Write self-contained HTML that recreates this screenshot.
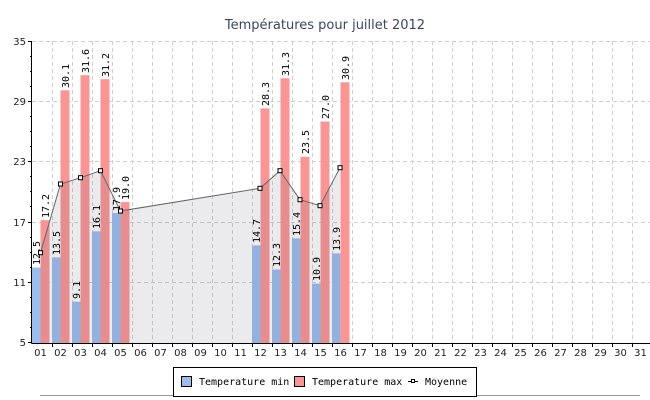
<!DOCTYPE html>
<html><head><meta charset="utf-8"><style>
html,body{margin:0;padding:0;background:#fff;}
svg{display:block;}
.t{font-family:"DejaVu Sans Mono","Liberation Mono",monospace;font-size:10px;fill:#000;}
.ax{font-family:"DejaVu Sans","Liberation Sans",sans-serif;font-size:10px;fill:#222;}
</style></head><body>
<svg width="650" height="400" viewBox="0 0 650 400" xmlns="http://www.w3.org/2000/svg">
<rect width="650" height="400" fill="#fff"/>
<text x="325" y="29" text-anchor="middle" font-family="DejaVu Sans, Liberation Sans, sans-serif" font-size="13" fill="#3d4460">Températures pour juillet 2012</text>
<g stroke="#cfcfcf" stroke-dasharray="4,3" stroke-width="1">
<line x1="32" y1="41.5" x2="650" y2="41.5"/>
<line x1="32" y1="101.5" x2="650" y2="101.5"/>
<line x1="32" y1="161.5" x2="650" y2="161.5"/>
<line x1="32" y1="222.5" x2="650" y2="222.5"/>
<line x1="32" y1="282.5" x2="650" y2="282.5"/>
<line x1="52.5" y1="41" x2="52.5" y2="343"/><line x1="72.5" y1="41" x2="72.5" y2="343"/><line x1="92.5" y1="41" x2="92.5" y2="343"/><line x1="112.5" y1="41" x2="112.5" y2="343"/><line x1="132.5" y1="41" x2="132.5" y2="343"/><line x1="152.5" y1="41" x2="152.5" y2="343"/><line x1="172.5" y1="41" x2="172.5" y2="343"/><line x1="192.5" y1="41" x2="192.5" y2="343"/><line x1="212.5" y1="41" x2="212.5" y2="343"/><line x1="232.5" y1="41" x2="232.5" y2="343"/><line x1="252.5" y1="41" x2="252.5" y2="343"/><line x1="272.5" y1="41" x2="272.5" y2="343"/><line x1="292.5" y1="41" x2="292.5" y2="343"/><line x1="312.5" y1="41" x2="312.5" y2="343"/><line x1="332.5" y1="41" x2="332.5" y2="343"/><line x1="352.5" y1="41" x2="352.5" y2="343"/><line x1="372.5" y1="41" x2="372.5" y2="343"/><line x1="392.5" y1="41" x2="392.5" y2="343"/><line x1="412.5" y1="41" x2="412.5" y2="343"/><line x1="432.5" y1="41" x2="432.5" y2="343"/><line x1="452.5" y1="41" x2="452.5" y2="343"/><line x1="472.5" y1="41" x2="472.5" y2="343"/><line x1="492.5" y1="41" x2="492.5" y2="343"/><line x1="512.5" y1="41" x2="512.5" y2="343"/><line x1="532.5" y1="41" x2="532.5" y2="343"/><line x1="552.5" y1="41" x2="552.5" y2="343"/><line x1="572.5" y1="41" x2="572.5" y2="343"/><line x1="592.5" y1="41" x2="592.5" y2="343"/><line x1="612.5" y1="41" x2="612.5" y2="343"/><line x1="632.5" y1="41" x2="632.5" y2="343"/>
</g>
<g fill="#9dbdee">
<rect x="32" y="267.5" width="8.5" height="75.5"/>
<rect x="52" y="257.4" width="8.5" height="85.6"/>
<rect x="72" y="301.7" width="8.5" height="41.3"/>
<rect x="92" y="231.3" width="8.5" height="111.7"/>
<rect x="112" y="213.1" width="8.5" height="129.9"/>
<rect x="252" y="245.4" width="8.5" height="97.6"/>
<rect x="272" y="269.5" width="8.5" height="73.5"/>
<rect x="292" y="238.3" width="8.5" height="104.7"/>
<rect x="312" y="283.6" width="8.5" height="59.4"/>
<rect x="332" y="253.4" width="8.5" height="89.6"/>
</g>
<g fill="#f99595">
<rect x="40.5" y="220.2" width="9" height="122.8"/>
<rect x="60.5" y="90.3" width="9" height="252.7"/>
<rect x="80.5" y="75.2" width="9" height="267.8"/>
<rect x="100.5" y="79.2" width="9" height="263.8"/>
<rect x="120.5" y="202.1" width="9" height="140.9"/>
<rect x="260.5" y="108.4" width="9" height="234.6"/>
<rect x="280.5" y="78.2" width="9" height="264.8"/>
<rect x="300.5" y="156.8" width="9" height="186.2"/>
<rect x="320.5" y="121.5" width="9" height="221.5"/>
<rect x="340.5" y="82.3" width="9" height="260.7"/>
</g>
<polygon points="40.5,343 40.5,252.7 60.5,184 80.5,177.7 100.5,170.7 120.5,211 260,188.3 280,170.7 300,199.7 320,205.7 340,167.7 340,343" fill="#5a5a6a" fill-opacity="0.12"/>
<polyline points="40.5,252.7 60.5,184 80.5,177.7 100.5,170.7 120.5,211 260,188.3 280,170.7 300,199.7 320,205.7 340,167.7" fill="none" stroke="#666" stroke-width="1"/>
<g fill="#fff" stroke="#000" stroke-width="1">
<rect x="38.5" y="250.7" width="4" height="4"/><rect x="58.5" y="182" width="4" height="4"/><rect x="78.5" y="175.7" width="4" height="4"/><rect x="98.5" y="168.7" width="4" height="4"/><rect x="118.5" y="209" width="4" height="4"/><rect x="258" y="186.3" width="4" height="4"/><rect x="278" y="168.7" width="4" height="4"/><rect x="298" y="197.7" width="4" height="4"/><rect x="318" y="203.7" width="4" height="4"/><rect x="338" y="165.7" width="4" height="4"/>
</g>
<g class="t">
<text transform="translate(40,265) rotate(-90)">12.5</text>
<text transform="translate(60,255) rotate(-90)">13.5</text>
<text transform="translate(80,299) rotate(-90)">9.1</text>
<text transform="translate(100,229) rotate(-90)">16.1</text>
<text transform="translate(120,211) rotate(-90)">17.9</text>
<text transform="translate(260,243) rotate(-90)">14.7</text>
<text transform="translate(280,267) rotate(-90)">12.3</text>
<text transform="translate(300,236) rotate(-90)">15.4</text>
<text transform="translate(320,281) rotate(-90)">10.9</text>
<text transform="translate(340,251) rotate(-90)">13.9</text>
<text transform="translate(49,218) rotate(-90)">17.2</text>
<text transform="translate(69,88) rotate(-90)">30.1</text>
<text transform="translate(89,73) rotate(-90)">31.6</text>
<text transform="translate(109,77) rotate(-90)">31.2</text>
<text transform="translate(129,200) rotate(-90)">19.0</text>
<text transform="translate(269,106) rotate(-90)">28.3</text>
<text transform="translate(289,76) rotate(-90)">31.3</text>
<text transform="translate(309,154) rotate(-90)">23.5</text>
<text transform="translate(329,119) rotate(-90)">27.0</text>
<text transform="translate(349,80) rotate(-90)">30.9</text>
</g>
<g stroke="#000" stroke-width="1">
<line x1="31.5" y1="41" x2="31.5" y2="343.5"/>
<line x1="31.5" y1="343.5" x2="650" y2="343.5"/>
<path d="M28 41.5h4M28 101.5h4M28 161.5h4M28 222.5h4M28 282.5h4M28 342.5h4"/>
<path d="M30 56.5h2M30 71.5h2M30 86.5h2M30 116.5h2M30 131.5h2M30 146.5h2M30 176.5h2M30 191.5h2M30 206.5h2M30 237.5h2M30 252.5h2M30 267.5h2M30 297.5h2M30 312.5h2M30 327.5h2"/>
<path d="M52.5 343v4M72.5 343v4M92.5 343v4M112.5 343v4M132.5 343v4M152.5 343v4M172.5 343v4M192.5 343v4M212.5 343v4M232.5 343v4M252.5 343v4M272.5 343v4M292.5 343v4M312.5 343v4M332.5 343v4M352.5 343v4M372.5 343v4M392.5 343v4M412.5 343v4M432.5 343v4M452.5 343v4M472.5 343v4M492.5 343v4M512.5 343v4M532.5 343v4M552.5 343v4M572.5 343v4M592.5 343v4M612.5 343v4M632.5 343v4"/>
</g>
<g class="ax" text-anchor="end">
<text x="26" y="45">35</text><text x="26" y="105">29</text><text x="26" y="165">23</text><text x="26" y="226">17</text><text x="26" y="286">11</text><text x="26" y="346">5</text>
</g>
<g class="ax" text-anchor="middle">
<text x="40.5" y="356">01</text><text x="60.5" y="356">02</text><text x="80.5" y="356">03</text><text x="100.5" y="356">04</text><text x="120.5" y="356">05</text><text x="140.5" y="356">06</text><text x="160.5" y="356">07</text><text x="180.5" y="356">08</text><text x="200.5" y="356">09</text><text x="220.5" y="356">10</text><text x="240.5" y="356">11</text><text x="260.5" y="356">12</text><text x="280.5" y="356">13</text><text x="300.5" y="356">14</text><text x="320.5" y="356">15</text><text x="340.5" y="356">16</text><text x="360.5" y="356">17</text><text x="380.5" y="356">18</text><text x="400.5" y="356">19</text><text x="420.5" y="356">20</text><text x="440.5" y="356">21</text><text x="460.5" y="356">22</text><text x="480.5" y="356">23</text><text x="500.5" y="356">24</text><text x="520.5" y="356">25</text><text x="540.5" y="356">26</text><text x="560.5" y="356">27</text><text x="580.5" y="356">28</text><text x="600.5" y="356">29</text><text x="620.5" y="356">30</text><text x="640.5" y="356">31</text>
</g>
<line x1="40" y1="395.5" x2="640" y2="395.5" stroke="#999"/>
<rect x="173.5" y="367.5" width="303" height="29" fill="#fff" stroke="#000"/>
<rect x="181.5" y="376.5" width="10" height="10" fill="#9dbdee" stroke="#000"/>
<text x="199" y="385" class="t">Temperature min</text>
<rect x="294.5" y="376.5" width="10" height="10" fill="#f99595" stroke="#000"/>
<text x="312" y="385" class="t">Temperature max</text>
<line x1="408" y1="381.5" x2="418" y2="381.5" stroke="#000"/>
<rect x="411.5" y="379.5" width="3" height="3" fill="#fff" stroke="#000"/>
<text x="425" y="385" class="t">Moyenne</text>
</svg>
</body></html>
